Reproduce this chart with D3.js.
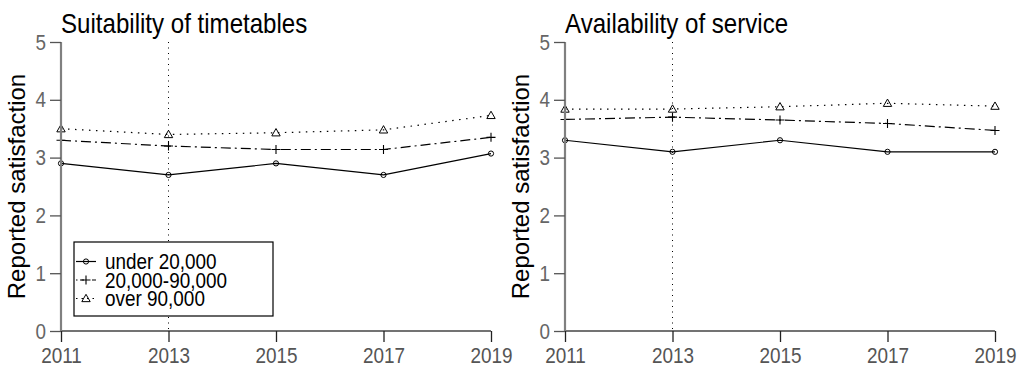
<!DOCTYPE html>
<html>
<head>
<meta charset="utf-8">
<script src="https://cdn.jsdelivr.net/npm/d3@7"></script>
<style>
  html, body { margin: 0; padding: 0; background: #fff; }
  svg { display: block; }
  text { font-family: "Liberation Sans", Arial, sans-serif; }
</style>
</head>
<body>
<svg id="chart" width="1017" height="372"></svg>
<script>
// ---- data ----
const years = [2011, 2013, 2015, 2017, 2019];
const groups = ["under 20,000", "20,000-90,000", "over 90,000"];
const panelTitles = ["Suitability of timetables", "Availability of service"];
const yTicks = [0, 1, 2, 3, 4, 5];
const referenceYear = 2013;
const yLabel = "Reported satisfaction";

const timetablesUnder20k = [2.90, 2.70, 2.90, 2.70, 3.07];
const timetables20kTo90k = [3.30, 3.20, 3.14, 3.14, 3.35];
const timetablesOver90k  = [3.50, 3.40, 3.43, 3.48, 3.73];

const serviceUnder20k = [3.30, 3.10, 3.30, 3.10, 3.10];
const service20kTo90k = [3.66, 3.70, 3.65, 3.59, 3.47];
const serviceOver90k  = [3.84, 3.84, 3.88, 3.94, 3.89];

const panels = [
  { title: panelTitles[0], series: [timetablesUnder20k, timetables20kTo90k, timetablesOver90k], legend: true },
  { title: panelTitles[1], series: [serviceUnder20k, service20kTo90k, serviceOver90k], legend: false }
];

// ---- styles ----
const dashes = [null, "10,4,2,4", "1.5,5.5"];
const markers = ["circle", "plus", "triangle"];
const NARROW = 0.86;

const svg = d3.select("#chart");
const panelOffset = 504;

function drawMarker(g, type, x, y) {
  if (type === "circle") {
    g.append("circle").attr("cx", x).attr("cy", y).attr("r", 2.6)
      .attr("fill", "none").attr("stroke", "#000").attr("stroke-width", 1);
  } else if (type === "plus") {
    g.append("path").attr("d", `M${x-4.5},${y}H${x+4.5}M${x},${y-4.5}V${y+4.5}`)
      .attr("stroke", "#000").attr("stroke-width", 1.1);
  } else {
    const s = 4.2;
    g.append("path").attr("d", `M${x},${y-s}L${x+s},${y+s*0.75}L${x-s},${y+s*0.75}Z`)
      .attr("fill", "none").attr("stroke", "#000").attr("stroke-width", 1);
  }
}

panels.forEach((p, i) => {
  const ox = i * panelOffset;
  const x = d3.scaleLinear().domain([2011, 2019]).range([61 + ox, 491 + ox]);
  const y = d3.scaleLinear().domain([0, 5]).range([331, 42]);
  const g = svg.append("g");

  // reference dotted line
  g.append("line")
    .attr("x1", x(referenceYear)).attr("x2", x(referenceYear))
    .attr("y1", y(5)).attr("y2", y(0))
    .attr("stroke", "#000").attr("stroke-width", 1).attr("stroke-dasharray", "1,4.5");

  // series
  p.series.forEach((vals, si) => {
    const pts = years.map((yr, k) => [x(yr), y(vals[k])]);
    g.append("path")
      .attr("d", d3.line()(pts))
      .attr("fill", "none").attr("stroke", "#000").attr("stroke-width", 1.2)
      .attr("stroke-dasharray", dashes[si]);
    pts.forEach(pt => drawMarker(g, markers[si], pt[0], pt[1]));
  });

  // x axis
  const xAxis = g.append("g").attr("transform", `translate(0,${y(0)})`)
    .call(d3.axisBottom(x).tickValues(years).tickFormat(d3.format("d")).tickSize(11).tickPadding(5));
  xAxis.select(".domain").attr("stroke", "#444").attr("stroke-width", 1.4).attr("d", `M${x(2011)},0H${x(2019)}`);
  xAxis.selectAll(".tick line").attr("stroke", "#222").attr("stroke-width", 1.3);
  xAxis.selectAll(".tick text").attr("fill", "#555").attr("font-size", 22)
    .attr("font-family", "'Liberation Sans', Arial, sans-serif").classed("narrow", true);

  // y axis
  const yAxis = g.append("g").attr("transform", `translate(${x(2011)},0)`)
    .call(d3.axisLeft(y).tickValues(yTicks).tickFormat(d3.format("d")).tickSize(11).tickPadding(4));
  yAxis.select(".domain").attr("stroke", "#808080").attr("stroke-width", 2.2).attr("d", `M0,${y(0)}V${y(5)}`);
  yAxis.selectAll(".tick line").attr("stroke", "#555").attr("stroke-width", 1.3);
  yAxis.selectAll(".tick text").attr("fill", "#666").attr("font-size", 22)
    .attr("font-family", "'Liberation Sans', Arial, sans-serif").classed("narrow", true);

  // title
  g.append("text").attr("x", 61 + ox).attr("y", 33).classed("narrow", true)
    .attr("font-size", 28).attr("fill", "#000").text(p.title);

  // y label
  g.append("text")
    .attr("transform", `translate(${25 + ox},${(y(0) + y(5)) / 2}) rotate(-90)`)
    .attr("text-anchor", "middle").attr("font-size", 24).attr("fill", "#000")
    .text(yLabel);

  // legend
  if (p.legend) {
    const lg = g.append("g");
    lg.append("rect").attr("x", 74 + ox).attr("y", 242).attr("width", 199).attr("height", 74)
      .attr("fill", "#fff").attr("stroke", "#000").attr("stroke-width", 1.2);
    groups.forEach((name, si) => {
      const cy = 261.5 + si * 18.5;
      lg.append("line").attr("x1", 76 + ox).attr("x2", 96 + ox).attr("y1", cy).attr("y2", cy)
        .attr("stroke", "#000").attr("stroke-width", 1.2)
        .attr("stroke-dasharray", si === 0 ? null : (si === 1 ? "1.5,2.5,4,8,4,2.5" : "1.5,4"));
      drawMarker(lg, markers[si], 86 + ox, cy);
      lg.append("text").attr("x", 105 + ox).attr("y", cy).attr("dy", "0.36em").classed("narrow", true)
        .attr("font-size", 22).attr("fill", "#000").text(name);
    });
  }
});

// condense horizontal text to match the narrow face of the reference
svg.selectAll("text.narrow").each(function () {
  const len = this.getComputedTextLength();
  d3.select(this).attr("textLength", (len * NARROW).toFixed(1)).attr("lengthAdjust", "spacingAndGlyphs");
});
</script>
</body>
</html>
